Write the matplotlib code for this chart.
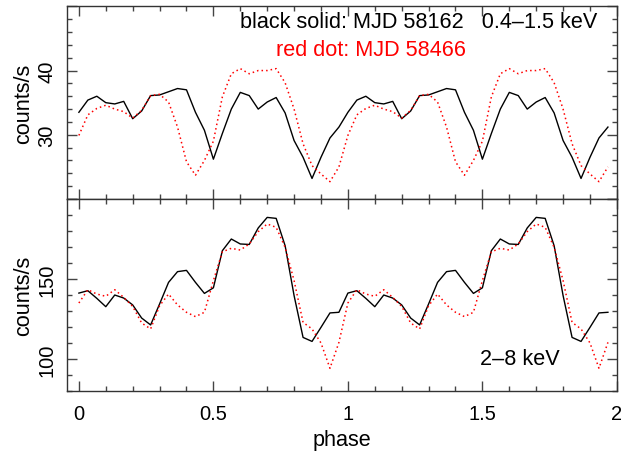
import numpy as np
import matplotlib.pyplot as plt
from matplotlib.ticker import MultipleLocator

plt.rcParams['font.family'] = ['Liberation Sans', 'DejaVu Sans']

# one cycle, 30 phase bins (plotted twice, phase 0-2)
nbins = 30
soft_58162 = [33.5, 35.4, 36.0, 35.0, 34.8, 35.2, 32.5, 33.7, 36.1, 36.2,
              36.7, 37.2, 37.0, 33.5, 30.7, 26.2, 30.2, 34.0, 36.6, 36.1,
              34.0, 35.1, 35.8, 33.4, 29.1, 26.5, 23.2, 26.5, 29.5, 31.2]
soft_58466 = [29.9, 33.1, 34.1, 34.6, 34.0, 33.6, 32.6, 33.8, 36.1, 36.3,
              35.1, 31.2, 25.8, 23.7, 26.0, 29.0, 35.9, 39.5, 40.3, 39.5,
              40.0, 40.0, 40.3, 38.1, 34.0, 28.6, 25.2, 23.9, 22.7, 25.0]
hard_58162 = [141.2, 142.7, 137.9, 132.7, 140.0, 138.1, 133.8, 125.6, 121.3, 134.4,
              147.9, 154.6, 155.4, 147.9, 141.0, 144.5, 167.7, 175.0, 171.9, 171.6,
              181.9, 188.5, 187.9, 170.8, 139.6, 113.5, 111.0, 119.8, 128.8, 129.2]
hard_58466 = [135.0, 143.3, 140.6, 139.2, 143.3, 138.5, 132.9, 122.5, 118.8, 133.3,
              140.6, 133.8, 129.2, 126.5, 129.2, 149.0, 167.0, 169.2, 168.1, 171.9,
              179.6, 184.4, 182.3, 169.8, 149.0, 122.9, 118.8, 110.0, 94.2, 110.4]

phase = np.arange(2 * nbins) / nbins

fig = plt.figure(figsize=(6.21, 4.6), dpi=100)
ax1 = fig.add_axes([0.1084, 0.5652, 0.885, 0.4189])
ax2 = fig.add_axes([0.1084, 0.1478, 0.885, 0.4174])

fs = 14.5
fs_txt = 15.6

for ax, black, red in [(ax1, soft_58162, soft_58466), (ax2, hard_58162, hard_58466)]:
    ax.plot(phase, np.tile(black, 2), color='black', lw=1.0)
    ax.plot(phase, np.tile(red, 2), color='red', lw=1.1, linestyle=(0, (1, 2)))
    ax.set_xlim(-0.043, 2.0)
    ax.xaxis.set_major_locator(MultipleLocator(0.5))
    ax.xaxis.set_minor_locator(MultipleLocator(0.1))
    ax.tick_params(which='both', direction='in', top=True, right=True,
                   labelsize=fs, color='#444444')
    ax.tick_params(which='major', length=7, width=1.0)
    ax.tick_params(which='minor', length=3.5, width=1.0)
    ax.tick_params(axis='y', pad=8)
    for s in ax.spines.values():
        s.set_linewidth(1.0)
        s.set_color('#333333')
    ax.set_ylabel('counts/s', fontsize=fs_txt, labelpad=2)

ax1.set_ylim(20, 50)
ax1.set_yticks([20, 30, 40, 50])
ax1.set_yticklabels(['', '30', '40', ''])
ax1.yaxis.set_minor_locator(MultipleLocator(2))
ax1.tick_params(axis='x', labelbottom=False)

ax2.set_ylim(80, 200)
ax2.set_yticks([100, 150, 200])
ax2.set_yticklabels(['100', '150', ''])
ax2.yaxis.set_minor_locator(MultipleLocator(10))
ax2.set_xticks([0, 0.5, 1, 1.5, 2])
ax2.set_xticklabels(['0', '0.5', '1', '1.5', '2'])
ax2.tick_params(axis='x', pad=9)
ax2.set_xlabel('phase', fontsize=fs_txt, labelpad=5)

for ax in (ax1, ax2):
    plt.setp(ax.get_yticklabels(), rotation=90, va='center')

ax1.text(0.9636, 0.919, 'black solid: MJD 58162   0.4\u20131.5 keV', transform=ax1.transAxes,
         ha='right', va='center', fontsize=fs_txt, color='black')
ax1.text(0.7253, 0.778, 'red dot: MJD 58466', transform=ax1.transAxes,
         ha='right', va='center', fontsize=fs_txt, color='red')
ax2.text(0.896, 0.167, '2\u20138 keV', transform=ax2.transAxes,
         ha='right', va='center', fontsize=fs_txt, color='black')

fig.savefig('out.png', dpi=100)
